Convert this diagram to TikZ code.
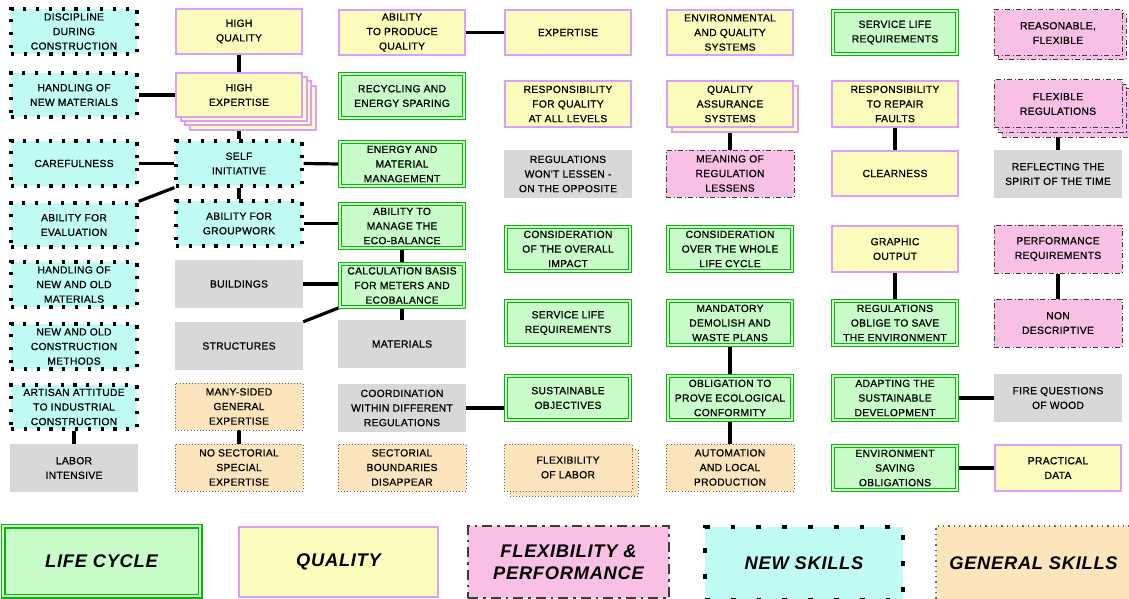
\documentclass[tikz,border=0pt]{standalone}
\usepackage{fontspec}
\setmainfont{Liberation Sans}
\newfontfamily\boxfontfam{Liberation Sans}[LetterSpace=3.0,FakeBold=0.8]
\newfontfamily\legfontfam{Liberation Sans}[LetterSpace=4.0]
\usetikzlibrary{backgrounds}
\definecolor{gfill}{RGB}{200,252,200}
\definecolor{gline}{RGB}{16,176,16}
\definecolor{yfill}{RGB}{252,252,188}
\definecolor{yline}{RGB}{216,160,248}
\definecolor{pfill}{RGB}{248,192,228}
\definecolor{pline}{RGB}{60,60,60}
\definecolor{cfill}{RGB}{192,252,244}
\definecolor{ofill}{RGB}{252,228,188}
\definecolor{oline}{RGB}{100,100,100}
\definecolor{gyfill}{RGB}{216,216,216}
\newcommand\bx[7]{\node[#1, minimum width={#5-#3}, minimum height={#6-#4}] (#2) at ({(#3+#5)/2},{(#4+#6)/2}) {#7};}
\tikzset{
  box/.style={inner sep=0pt, align=center, text=black, font=\boxfontfam\fontsize{10.3}{14.6}\selectfont},
  lc/.style={box, fill=gfill, draw=gline, double=gfill, line width=1.1pt, double distance=1.6pt},
  ql/.style={box, fill=yfill, draw=yline, line width=1.4pt},
  fp/.style={box, fill=pfill, draw=pline, line width=1pt, dash pattern=on 5pt off 2.5pt on 1pt off 2.5pt},
  ns/.style={box, fill=cfill, draw=black, line width=3.2pt, dash pattern=on 3.2pt off 9.6pt},
  gs/.style={box, fill=ofill, draw=oline, line width=0.9pt, dash pattern=on 0.9pt off 2.2pt},
  gy/.style={box, fill=gyfill},
  leg/.style={font=\legfontfam\fontsize{18.3}{22}\selectfont\bfseries\itshape},
  conn/.style={line width=3.2pt, black},
}
\begin{document}
\begin{tikzpicture}[x=1pt,y=-1pt]
\useasboundingbox (0,0) rectangle (1129,599);
% column 1
\bx{ns}{dis}{11}{9}{137}{54}{DISCIPLINE\\DURING\\CONSTRUCTION}
\bx{ns}{hnm}{11}{73}{137}{117}{HANDLING OF\\NEW MATERIALS}
\bx{ns}{care}{11}{141}{137}{186}{CAREFULNESS}
\bx{ns}{eval}{11}{203}{137}{247}{ABILITY FOR\\EVALUATION}
\bx{ns}{hnom}{11}{262}{137}{307}{HANDLING OF\\NEW AND OLD\\MATERIALS}
\bx{ns}{noc}{11}{324}{137}{369}{NEW AND OLD\\CONSTRUCTION\\METHODS}
\bx{ns}{art}{11}{385}{137}{429}{ARTISAN ATTITUDE\\TO INDUSTRIAL\\CONSTRUCTION}
\bx{gy}{labor}{10}{444}{138}{492}{LABOR\\INTENSIVE}
% column 2
\bx{ql}{hq}{176}{9}{302}{54}{HIGH\\QUALITY}
\bx{ql}{hexpC}{190}{86}{316}{130}{}
\bx{ql}{hexpB}{185}{81}{311}{125}{}
\bx{ql}{hexpA}{181}{77}{307}{121}{}
\bx{ql}{hexp}{176}{73}{302}{117}{HIGH\\EXPERTISE}
\bx{ns}{self}{176}{141}{302}{186}{SELF\\INITIATIVE}
\bx{ns}{grp}{176}{201}{302}{246}{ABILITY FOR\\GROUPWORK}
\bx{gy}{bld}{175}{260}{303}{308}{BUILDINGS}
\bx{gy}{str}{175}{322}{303}{370}{STRUCTURES}
\bx{gs}{many}{175}{383}{303}{430}{MANY-SIDED\\GENERAL\\EXPERTISE}
\bx{gs}{nosec}{175}{444}{303}{491}{NO SECTORIAL\\SPECIAL\\EXPERTISE}
% column 3
\bx{ql}{atpq}{339}{10}{465}{55}{ABILITY\\TO PRODUCE\\QUALITY}
\bx{lc}{recy}{340}{74}{464}{118}{RECYCLING AND\\ENERGY SPARING}
\bx{lc}{enm}{340}{142}{464}{186}{ENERGY AND\\MATERIAL\\MANAGEMENT}
\bx{lc}{eco}{340}{204}{464}{248}{ABILITY TO\\MANAGE THE\\ECO-BALANCE}
\bx{lc}{calc}{340}{264}{464}{307}{CALCULATION BASIS\\FOR METERS AND\\ECOBALANCE}
\bx{gy}{mat}{338}{320}{466}{368}{MATERIALS}
\bx{gy}{coord}{338}{384}{466}{432}{COORDINATION\\WITHIN DIFFERENT\\REGULATIONS}
\bx{gs}{sect}{338}{444}{466}{491}{SECTORIAL\\BOUNDARIES\\DISAPPEAR}
% column 4
\bx{ql}{expt}{505}{10}{631}{55}{EXPERTISE}
\bx{ql}{respq}{505}{81}{631}{127}{RESPONSIBILITY\\FOR QUALITY\\AT ALL LEVELS}
\bx{gy}{won}{504}{150}{632}{198}{REGULATIONS\\WON'T LESSEN -\\ON THE OPPOSITE}
\bx{lc}{cons}{506}{227}{630}{271}{CONSIDERATION\\OF THE OVERALL\\IMPACT}
\bx{lc}{slr}{506}{301}{630}{345}{SERVICE LIFE\\REQUIREMENTS}
\bx{lc}{sust}{506}{376}{630}{420}{SUSTAINABLE\\OBJECTIVES}
\bx{gs}{flexlB}{510}{449}{638}{496}{}
\bx{gs}{flexl}{504}{444}{632}{491}{FLEXIBILITY\\OF LABOR}
% column 5
\bx{ql}{envq}{667}{10}{793}{55}{ENVIRONMENTAL\\AND QUALITY\\SYSTEMS}
\bx{ql}{qasB}{672}{86}{798}{132}{}
\bx{ql}{qas}{667}{81}{793}{127}{QUALITY\\ASSURANCE\\SYSTEMS}
\bx{fp}{mean}{666}{150}{794}{197}{MEANING OF\\REGULATION\\LESSENS}
\bx{lc}{whole}{668}{227}{792}{271}{CONSIDERATION\\OVER THE WHOLE\\LIFE CYCLE}
\bx{lc}{mand}{668}{301}{792}{345}{MANDATORY\\DEMOLISH AND\\WASTE PLANS}
\bx{lc}{obl}{668}{376}{792}{420}{OBLIGATION TO\\PROVE ECOLOGICAL\\CONFORMITY}
\bx{gs}{auto}{666}{444}{794}{491}{AUTOMATION\\AND LOCAL\\PRODUCTION}
% column 6
\bx{lc}{slr2}{833}{11}{957}{54}{SERVICE LIFE\\REQUIREMENTS}
\bx{ql}{rep}{832}{81}{958}{127}{RESPONSIBILITY\\TO REPAIR\\FAULTS}
\bx{ql}{clear}{832}{151}{958}{196}{CLEARNESS}
\bx{ql}{graph}{832}{226}{958}{272}{GRAPHIC\\OUTPUT}
\bx{lc}{roblg}{833}{301}{957}{345}{REGULATIONS\\OBLIGE TO SAVE\\THE ENVIRONMENT}
\bx{lc}{adapt}{833}{376}{957}{420}{ADAPTING THE\\SUSTAINABLE\\DEVELOPMENT}
\bx{lc}{envs}{833}{446}{957}{490}{ENVIRONMENT\\SAVING\\OBLIGATIONS}
% column 7
\bx{fp}{reasB}{998}{14}{1126}{60}{}
\bx{fp}{reas}{994}{10}{1122}{56}{REASONABLE,\\FLEXIBLE}
\bx{fp}{flexrC}{1002}{89}{1130}{137}{}
\bx{fp}{flexrB}{998}{85}{1126}{133}{}
\bx{fp}{flexr}{994}{80}{1122}{128}{FLEXIBLE\\REGULATIONS}
\bx{gy}{spirit}{994}{150}{1122}{198}{REFLECTING THE\\SPIRIT OF THE TIME}
\bx{fp}{perf}{994}{225}{1122}{273}{PERFORMANCE\\REQUIREMENTS}
\bx{fp}{nond}{994}{299}{1122}{347}{NON\\DESCRIPTIVE}
\bx{gy}{fire}{994}{374}{1122}{422}{FIRE QUESTIONS\\OF WOOD}
\bx{ql}{prac}{995}{445}{1121}{491}{PRACTICAL\\DATA}
% legend
\bx{lc, line width=1.5pt, double distance=2pt, leg}{Llc}{3}{526}{200}{596}{LIFE CYCLE}
\bx{ql, line width=2pt, leg}{Lql}{239}{527}{438}{597}{QUALITY}
\bx{fp, line width=2.8pt, dash pattern=on 10pt off 5pt on 2.5pt off 5pt, leg}{Lfp}{468}{526}{669}{598}{FLEXIBILITY \&\\PERFORMANCE}
\bx{ns, line width=4.8pt, dash pattern=on 4.8pt off 21pt, leg}{Lns}{705}{527}{903}{600}{NEW SKILLS}
\bx{gs, line width=1.3pt, dash pattern=on 1.3pt off 4pt, leg}{Lgs}{936}{526}{1131}{600}{GENERAL SKILLS}
% connectors
\begin{pgfonlayer}{background}
\draw[conn] (hq.south) -- (hexp.north);
\draw[conn] (hnm.east) -- (hexp.west);
\draw[conn] (hexp.south) -- (self.north);
\draw[conn] (care.east) -- (self.west);
\draw[conn] (self.south west) -- (eval.north east);
\draw[conn] (self.east) -- (enm.west);
\draw[conn] (self.south) -- (grp.north);
\draw[conn] (grp.east) -- (grp.east -| eco.west);
\draw[conn] (eco.south) -- (calc.north);
\draw[conn] (bld.east) -- (bld.east -| calc.west);
\draw[conn] (str.north east) -- (calc.south west);
\draw[conn] (calc.south) -- (mat.north);
\draw[conn] (coord.east) -- (coord.east -| sust.west);
\draw[conn] (atpq.east) -- (expt.west);
\draw[conn] (art.south) -- (labor.north);
\draw[conn] (many.south) -- (nosec.north);
\draw[conn] (qas.south) -- (mean.north);
\draw[conn] (rep.south) -- (clear.north);
\draw[conn] (flexr.south) -- (spirit.north);
\draw[conn] (graph.south) -- (roblg.north);
\draw[conn] (perf.south) -- (nond.north);
\draw[conn] (mand.south) -- (obl.north);
\draw[conn] (obl.south) -- (auto.north);
\draw[conn] (adapt.east) -- (fire.west);
\draw[conn] (envs.east) -- (prac.west);
\end{pgfonlayer}
\end{tikzpicture}
\end{document}
